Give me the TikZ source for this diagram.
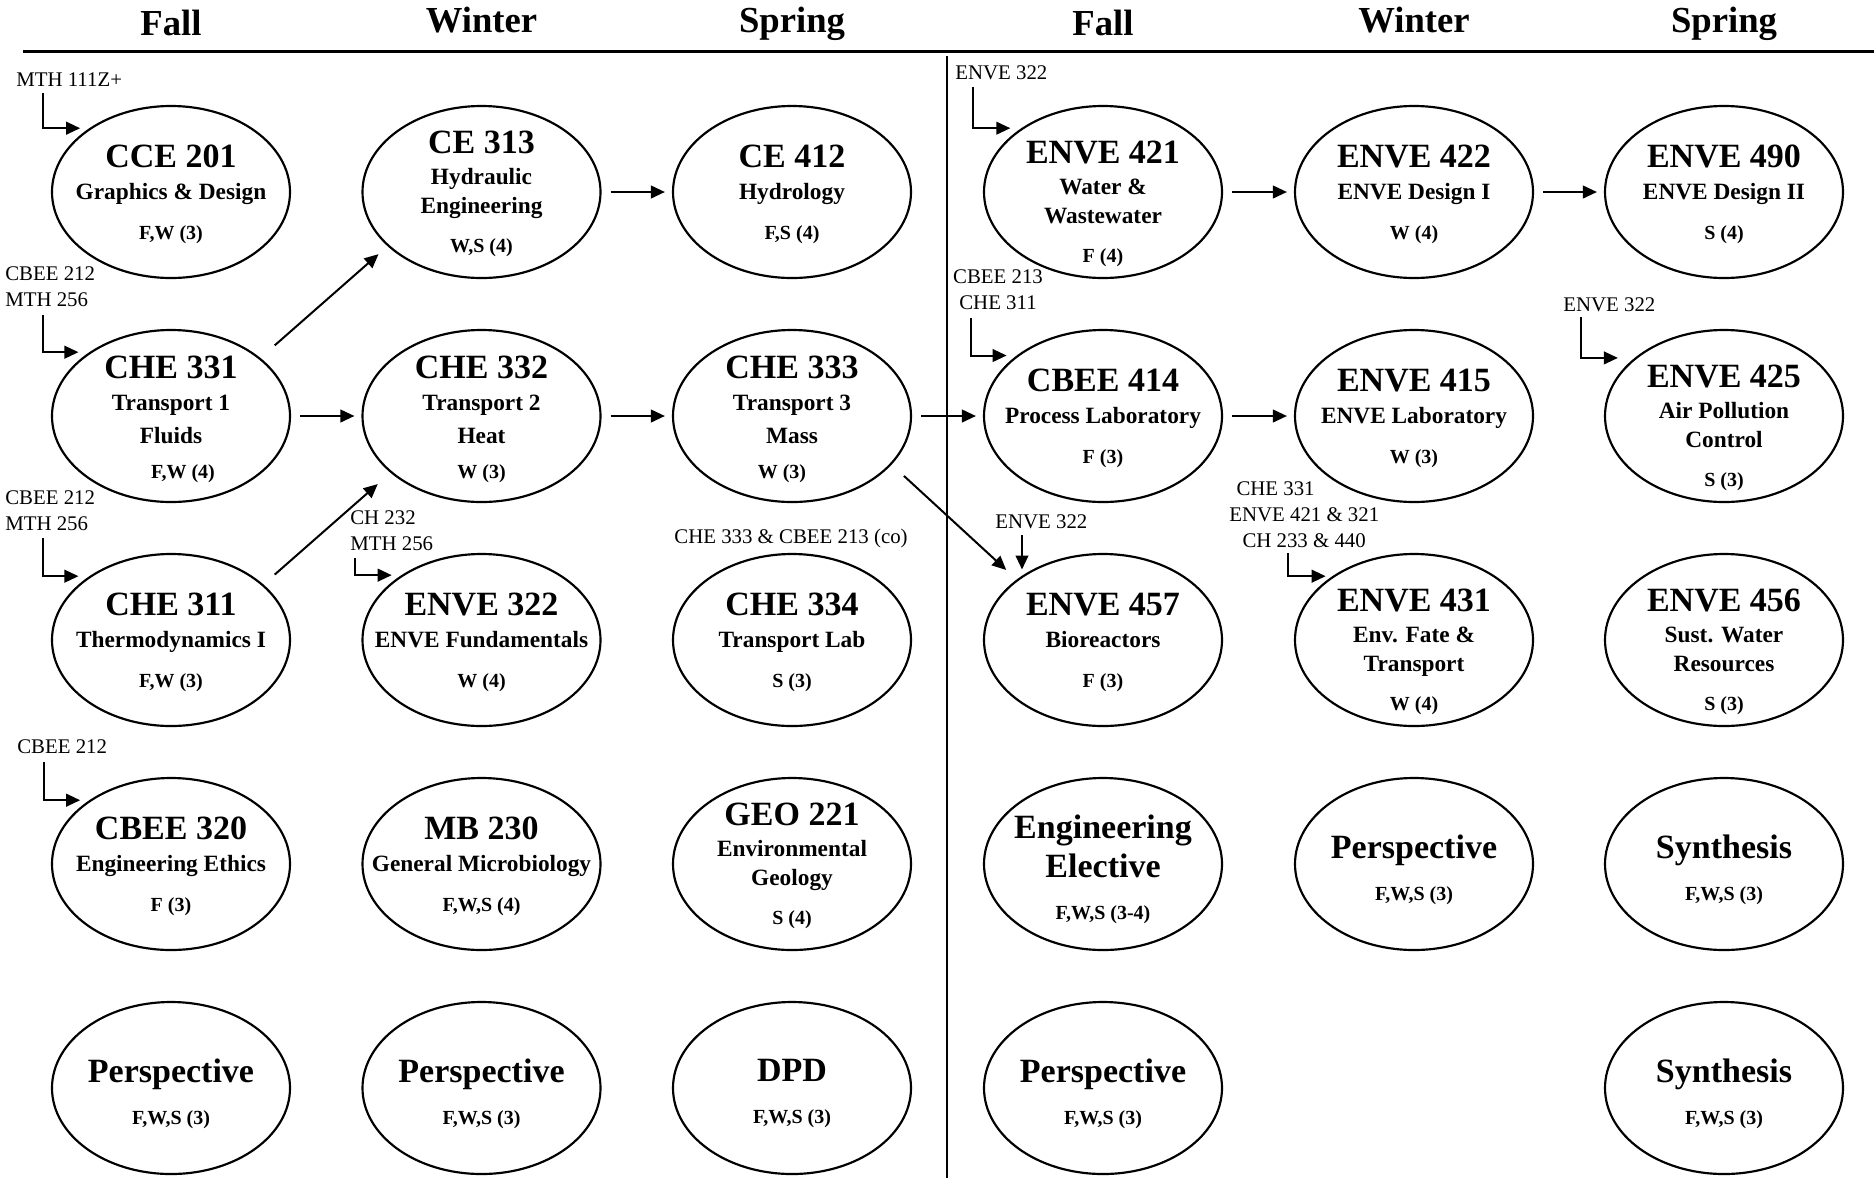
\documentclass[tikz,border=0pt]{standalone}
\usepackage{fontspec}
\setmainfont{Liberation Serif}
\usetikzlibrary{shapes.geometric,arrows.meta}

\newcommand{\crnum}{\fontsize{20.4pt}{0pt}\selectfont}
\newcommand{\crtitle}{\fontsize{14pt}{0pt}\selectfont}
\newcommand{\crcred}{\fontsize{12pt}{0pt}\selectfont}

\begin{document}
\begin{tikzpicture}[x=0.6pt,y=-0.6pt,
    crs/.style={draw,ellipse,line width=1.3pt,minimum width=142.8pt,minimum height=103.2pt,inner sep=0pt},
    ctxt/.style={align=center,inner sep=0pt,anchor=north,
      font={\bfseries\fontsize{12pt}{0pt}\selectfont\lineskiplimit=-100pt\lineskip=0pt}},
    tA/.style={ctxt,yshift=28.2pt},
    tB/.style={ctxt,yshift=36.6pt},
    tBB/.style={ctxt,yshift=30.6pt},
    tC/.style={ctxt,yshift=36.3pt},
    tD/.style={ctxt,yshift=17.7pt},
    tE/.style={ctxt,yshift=29.7pt},
    hdr/.style={anchor=base,inner sep=0pt,font=\bfseries\fontsize{22pt}{26pt}\selectfont},
    pq/.style={anchor=south west,inner sep=0pt,align=left,font=\fontsize{12.5pt}{15.6pt}\selectfont},
    pre/.style={-{Triangle[length=8.4pt,width=7.6pt]},line width=1.2pt},
    nxt/.style={pre,shorten <=5.4pt,shorten >=4.2pt}
  ]
\path[fill=white] (0,0) rectangle (1874,1178);
\useasboundingbox (0,0) rectangle (1874,1178);

% terms
\node[hdr] (hfall1) at (171,35) {Fall};
\node[hdr] (hwinter1) at (481.5,32) {Winter};
\node[hdr] (hspring1) at (792,32) {Spring};
\node[hdr] (hfall2) at (1103,35) {Fall};
\node[hdr] (hwinter2) at (1414,32) {Winter};
\node[hdr] (hspring2) at (1724,32) {Spring};
\draw[line width=2pt] (23,51.5) -- (1874,51.5);
\draw[line width=1.7pt] (947,56) -- (947,1178);

% row 1
\node[crs] (cce201) at (171,192) {};
\node[tA] (cce201t) at (cce201) {\crnum CCE 201\\[18.9pt]\crtitle Graphics \& Design\\[24.3pt]\crcred F,W (3)};
\node[crs] (ce313) at (481.5,192) {};
\node[tB] (ce313t) at (ce313) {\crnum CE 313\\[18.6pt]\crtitle Hydraulic\\[17.4pt]\crtitle Engineering\\[23.4pt]\crcred W,S (4)};
\node[crs] (ce412) at (792,192) {};
\node[tA] (ce412t) at (ce412) {\crnum CE 412\\[18.9pt]\crtitle Hydrology\\[24.3pt]\crcred F,S (4)};
\node[crs] (enve421) at (1103,192) {};
\node[tBB] (enve421t) at (enve421) {\crnum ENVE 421\\[18.6pt]\crtitle Water \&\\[17.4pt]\crtitle Wastewater\\[23.4pt]\crcred F (4)};
\node[crs] (enve422) at (1414,192) {};
\node[tA] (enve422t) at (enve422) {\crnum ENVE 422\\[18.9pt]\crtitle ENVE Design I\\[24.3pt]\crcred W (4)};
\node[crs] (enve490) at (1724,192) {};
\node[tA] (enve490t) at (enve490) {\crnum ENVE 490\\[18.9pt]\crtitle ENVE Design II\\[24.3pt]\crcred S (4)};

% row 2
\node[crs] (che331) at (171,416) {};
\node[tC] (che331t) at (che331) {\crnum CHE 331\\[19.2pt]\crtitle Transport 1\\[19.8pt]\crtitle Fluids\\[21pt]\crcred\hspace*{14.4pt}F,W (4)};
\node[crs] (che332) at (481.5,416) {};
\node[tC] (che332t) at (che332) {\crnum CHE 332\\[19.2pt]\crtitle Transport 2\\[19.8pt]\crtitle Heat\\[21pt]\crcred W (3)};
\node[crs] (che333) at (792,416) {};
\node[tC] (che333t) at (che333) {\crnum CHE 333\\[19.2pt]\crtitle Transport 3\\[19.8pt]\crtitle Mass\\[21pt]\crcred W (3)\hspace*{12pt}};
\node[crs] (cbee414) at (1103,416) {};
\node[tA] (cbee414t) at (cbee414) {\crnum CBEE 414\\[18.9pt]\crtitle Process Laboratory\\[24.3pt]\crcred F (3)};
\node[crs] (enve415) at (1414,416) {};
\node[tA] (enve415t) at (enve415) {\crnum ENVE 415\\[18.9pt]\crtitle ENVE Laboratory\\[24.3pt]\crcred W (3)};
\node[crs] (enve425) at (1724,416) {};
\node[tBB] (enve425t) at (enve425) {\crnum ENVE 425\\[18.6pt]\crtitle Air Pollution\\[17.4pt]\crtitle Control\\[23.4pt]\crcred S (3)};

% row 3
\node[crs] (che311) at (171,640) {};
\node[tA] (che311t) at (che311) {\crnum CHE 311\\[18.9pt]\crtitle Thermodynamics I\\[24.3pt]\crcred F,W (3)};
\node[crs] (enve322) at (481.5,640) {};
\node[tA] (enve322t) at (enve322) {\crnum ENVE 322\\[18.9pt]\crtitle ENVE Fundamentals\\[24.3pt]\crcred W (4)};
\node[crs] (che334) at (792,640) {};
\node[tA] (che334t) at (che334) {\crnum CHE 334\\[18.9pt]\crtitle Transport Lab\\[24.3pt]\crcred S (3)};
\node[crs] (enve457) at (1103,640) {};
\node[tA] (enve457t) at (enve457) {\crnum ENVE 457\\[18.9pt]\crtitle Bioreactors\\[24.3pt]\crcred F (3)};
\node[crs] (enve431) at (1414,640) {};
\node[tBB] (enve431t) at (enve431) {\crnum ENVE 431\\[18.6pt]\crtitle Env. Fate \&\\[17.4pt]\crtitle Transport\\[23.4pt]\crcred W (4)};
\node[crs] (enve456) at (1724,640) {};
\node[tBB] (enve456t) at (enve456) {\crnum ENVE 456\\[18.6pt]\crtitle Sust. Water\\[17.4pt]\crtitle Resources\\[23.4pt]\crcred S (3)};

% row 4
\node[crs] (cbee320) at (171,864) {};
\node[tA] (cbee320t) at (cbee320) {\crnum CBEE 320\\[18.9pt]\crtitle Engineering Ethics\\[24.3pt]\crcred F (3)};
\node[crs] (mb230) at (481.5,864) {};
\node[tA] (mb230t) at (mb230) {\crnum MB 230\\[18.9pt]\crtitle General Microbiology\\[24.3pt]\crcred F,W,S (4)};
\node[crs] (geo221) at (792,864) {};
\node[tB] (geo221t) at (geo221) {\crnum GEO 221\\[18.6pt]\crtitle Environmental\\[17.4pt]\crtitle Geology\\[23.4pt]\crcred S (4)};
\node[crs] (engel) at (1103,864) {};
\node[tE] (engelt) at (engel) {\crnum Engineering\\[23.4pt]\crnum Elective\\[25.2pt]\crcred F,W,S (3-4)};
\node[crs] (persp4) at (1414,864) {};
\node[tD] (persp4t) at (persp4) {\crnum Perspective\\[25.2pt]\crcred F,W,S (3)};
\node[crs] (synth4) at (1724,864) {};
\node[tD] (synth4t) at (synth4) {\crnum Synthesis\\[25.2pt]\crcred F,W,S (3)};

% row 5
\node[crs] (persp1) at (171,1088) {};
\node[tD] (persp1t) at (persp1) {\crnum Perspective\\[25.2pt]\crcred F,W,S (3)};
\node[crs] (persp2) at (481.5,1088) {};
\node[tD] (persp2t) at (persp2) {\crnum Perspective\\[25.2pt]\crcred F,W,S (3)};
\node[crs] (dpd) at (792,1088) {};
\node[tD] (dpdt) at (dpd) {\crnum DPD\\[25.2pt]\crcred F,W,S (3)};
\node[crs] (persp5) at (1103,1088) {};
\node[tD] (persp5t) at (persp5) {\crnum Perspective\\[25.2pt]\crcred F,W,S (3)};
\node[crs] (synth5) at (1724,1088) {};
\node[tD] (synth5t) at (synth5) {\crnum Synthesis\\[25.2pt]\crcred F,W,S (3)};

% prerequisites
\node[pq] (p201) at (16,87) {MTH 111Z+};
\node[pq] (p331) at (5,307) {CBEE 212\\MTH 256};
\node[pq] (p311) at (5,531) {CBEE 212\\MTH 256};
\node[pq] (p322) at (350,551) {CH 232\\MTH 256};
\node[pq] (p320) at (17,754) {CBEE 212};
\node[pq] (p421) at (955,80) {ENVE 322};
\node[pq,anchor=south,align=center] (p414) at (998,310) {CBEE 213\\CHE 311};
\node[pq] (p425) at (1563,312) {ENVE 322};
\node[pq] (p431) at (1229,548) {\hspace*{4.3pt}CHE 331\\ENVE 421 \& 321\\\hspace*{7.9pt}CH 233 \& 440};
\node[pq,anchor=base] (p334) at (791,543) {CHE 333 \& CBEE 213 (co)};
\node[pq] (p457) at (995,529) {ENVE 322};
\coordinate (t457) at ([shift={(27,6)}]p457.south west);

\draw[pre,shorten >=5.5pt] ([shift={(27,6)}]p201.south west) |- (cce201.142);
\draw[pre,shorten >=6.5pt] ([shift={(38,8)}]p331.south west) |- (che331.142);
\draw[pre,shorten >=6.5pt] ([shift={(38,7)}]p311.south west) |- (che311.142);
\draw[pre,shorten >=5.8pt] ([shift={(5,7)}]p322.south west) |- (enve322.141);
\draw[pre,shorten >=5.5pt] ([shift={(27,8)}]p320.south west) |- (cbee320.142);
\draw[pre,shorten >=6.6pt] ([shift={(18,7)}]p421.south west) |- (enve421.142);
\draw[pre,shorten >=6pt] ([shift={(-27,8)}]p414.south) |- (cbee414.145);
\draw[pre,shorten >=10pt] ([shift={(18,5)}]p425.south west) |- (enve425.147);
\draw[pre,shorten >=4pt] ([shift={(59,5)}]p431.south west) |- (enve431.142);
\draw[pre] (t457) -- (t457 |- enve457.135);

% sequences
\draw[nxt] (ce313) -- (ce412);
\draw[nxt] (enve421) -- (enve422);
\draw[nxt] (enve422) -- (enve490);
\draw[nxt] (che331) -- (che332);
\draw[nxt] (che332) -- (che333);
\draw[nxt] (che333) -- (cbee414);
\draw[nxt] (cbee414) -- (enve415);
\draw[pre,shorten <=11.4pt,shorten >=7.2pt] (che331.33) -- (ce313.210);
\draw[pre,shorten <=9pt,shorten >=10.2pt] (che311.31) -- (che332.212);
\draw[pre,shorten <=10pt,shorten >=8.5pt] (che333.334) -- (enve457.145);
\end{tikzpicture}
\end{document}
